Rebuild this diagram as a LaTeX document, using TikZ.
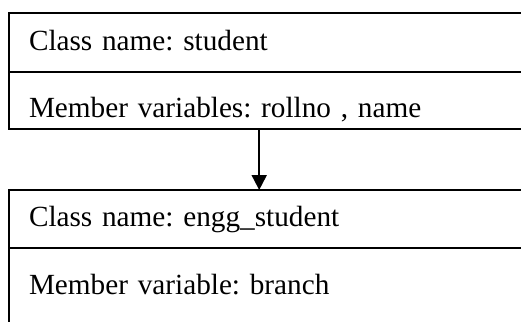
\documentclass[tikz,border=0pt]{standalone}
\usepackage{fontspec}
\setmainfont{Liberation Serif}
\usetikzlibrary{positioning, arrows.meta}
\frenchspacing

\tikzset{
    row/.style = {draw, line width = 1.4pt, anchor = north west, align = left,
        minimum width = 13.2cm, text width = 12.2cm, inner xsep = 0.5cm,
        inner ysep = 0pt, outer sep = 0pt, font = \fontsize{20.8pt}{25pt}\selectfont},
    namerow/.style = {row, text height = 0.92cm, text depth = 0.54cm},
    varrow/.style = {row, text height = 1.15cm, text depth = 0.29cm},
    inherit/.style = {line width = 1.4pt, -{Triangle[length = 0.375cm, width = 0.375cm]}}
}

\begin{document}
\begin{tikzpicture}
        \useasboundingbox (0, 0) rectangle (13.025, -8.025);

        \node[namerow] (sname) at (0.225, -0.333) {Class name: student};
        \node[varrow, below = 0pt of sname.south west, anchor = north west] (svars) {Member variables: rollno , name};

        \node[namerow] (ename) at (0.225, -4.75) {Class name: engg\_student};
        \node[varrow, text depth = 1.2cm, below = 0pt of ename.south west, anchor = north west] (evars) {Member variable: branch};

        \coordinate (a) at (6.48, 0);
        \draw[inherit] (svars.south -| a) to (ename.north -| a);
    \end{tikzpicture}
\end{document}
